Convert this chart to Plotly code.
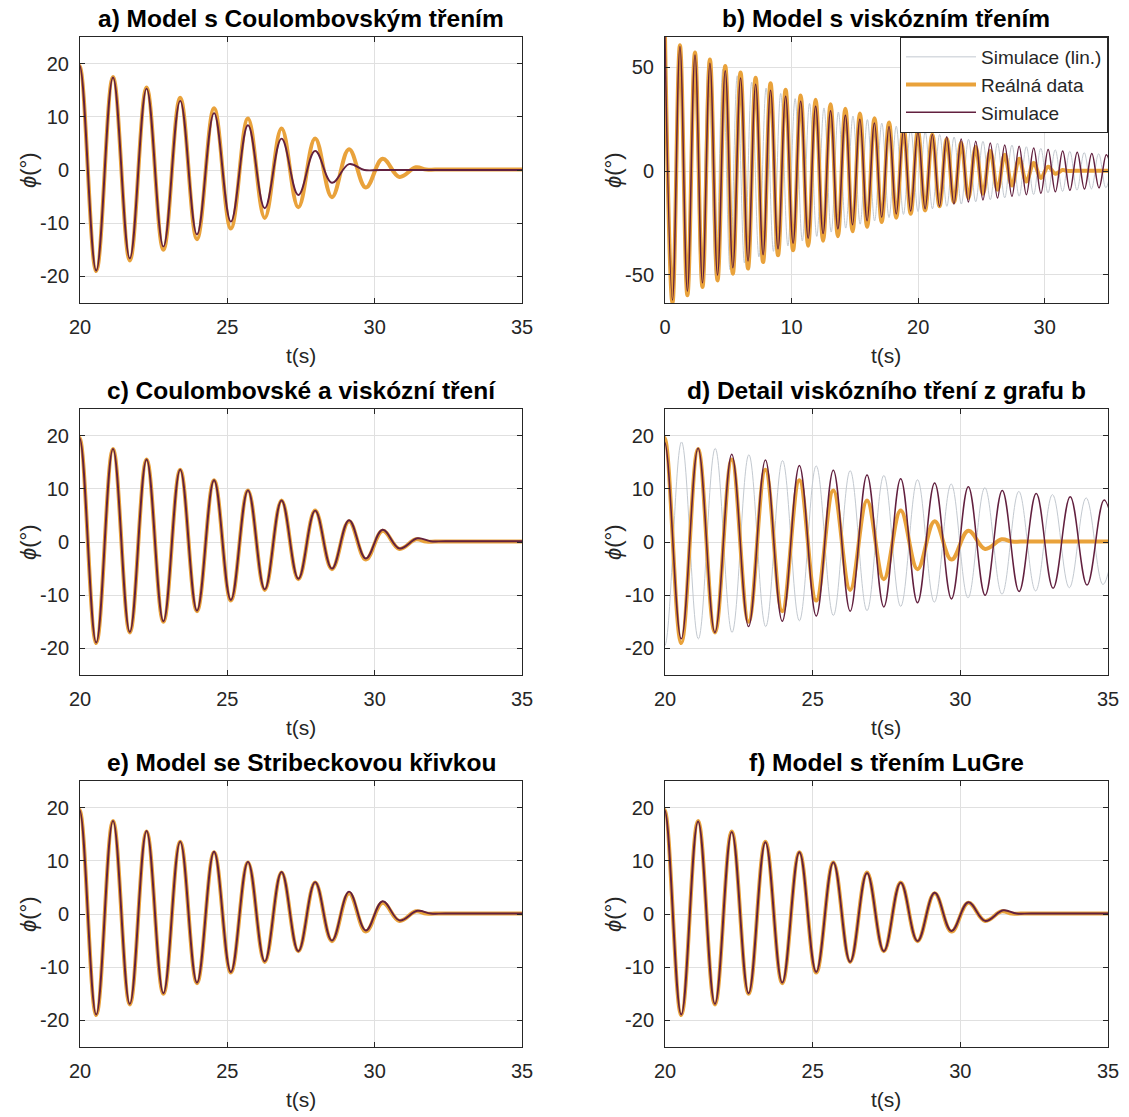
import plotly.graph_objects as go

# ---------------- data (extrema) ----------------
# Real measured data (Reálná data): alternating peaks/troughs, then rest at ~0
t_real = [0.00, 0.59, 1.18, 1.77, 2.37, 2.96, 3.55, 4.15, 4.76, 5.36, 5.97, 6.56,
          7.16, 7.75, 8.34, 8.93, 9.53, 10.12, 10.72, 11.31, 11.90, 12.49, 13.08,
          13.66, 14.25, 14.82, 15.40, 15.97, 16.55, 17.12, 17.70, 18.27, 18.85,
          19.41, 19.98, 20.55, 21.12, 21.69, 22.26, 22.83, 23.40, 23.97, 24.55,
          25.12, 25.70, 26.27, 26.84, 27.41, 27.98, 28.55, 29.13, 29.70, 30.27,
          30.84, 31.40, 31.75, 32.30, 35.00]
phi_real = [64.6, -63.6, 60.6, -59.9, 57.1, -55.9, 53.8, -52.7, 50.6, -49.5, 47.5,
            -47.0, 45.0, -43.9, 42.3, -40.6, 39.2, -38.2, 36.4, -36.0, 34.3, -33.6,
            32.2, -31.4, 30.0, -29.0, 27.7, -26.9, 25.5, -24.6, 23.4, -22.5, 21.2,
            -20.6, 19.6, -19.0, 17.5, -17.0, 15.5, -15.0, 13.6, -13.0, 11.6, -11.0,
            9.7, -9.0, 7.8, -7.0, 5.9, -5.1, 3.9, -3.3, 2.1, -1.3, 0.5, 0.1, 0.1, 0.1]

# Viscous-friction simulation (Simulace), panels b and d
t_visc = [0.00, 0.59, 1.18, 1.77, 2.37, 2.96, 3.55, 4.15, 4.76, 5.36, 5.97, 6.56,
          7.16, 7.75, 8.34, 8.93, 9.53, 10.12, 10.72, 11.31, 11.90, 12.49, 13.08,
          13.66, 14.25, 14.82, 15.40, 15.97, 16.55, 17.12, 17.70, 18.27, 18.85,
          19.41, 19.98, 20.55, 21.12, 21.69, 22.26, 22.83, 23.40, 23.97, 24.55,
          25.12, 25.70, 26.27, 26.84, 27.41, 27.98, 28.55, 29.13, 29.70, 30.27,
          30.84, 31.42, 31.99, 32.57, 33.14, 33.72, 34.29, 34.87, 35.44]
phi_visc = [64.6, -62.2, 60.0, -57.9, 55.9, -53.9, 52.0, -50.1, 48.3, -46.6, 44.9,
            -43.3, 41.8, -40.3, 38.9, -37.5, 36.1, -34.8, 33.6, -32.4, 31.2, -30.1,
            29.0, -27.9, 26.9, -25.9, 24.9, -24.0, 23.1, -22.3, 21.5, -20.7, 20.0,
            -19.3, 18.8, -18.2, 17.6, -17.0, 16.5, -15.9, 15.4, -14.9, 14.4, -13.9,
            13.5, -13.0, 12.6, -12.2, 11.9, -11.4, 11.1, -10.7, 10.4, -10.0, 9.7,
            -9.3, 9.1, -8.7, 8.5, -8.1, 7.9, -7.5]

# Linearised simulation (Simulace (lin.)), panels b and d
t_lin = [0.00, 0.57, 1.14, 1.71, 2.28, 2.86, 3.43, 4.00, 4.57, 5.14, 5.71, 6.28,
         6.85, 7.42, 7.99, 8.57, 9.14, 9.71, 10.28, 10.85, 11.42, 11.99, 12.56,
         13.13, 13.70, 14.28, 14.85, 15.42, 15.99, 16.56, 17.13, 17.70, 18.27,
         18.84, 19.41, 19.99, 20.56, 21.13, 21.70, 22.27, 22.84, 23.41, 23.98,
         24.55, 25.12, 25.70, 26.27, 26.84, 27.41, 27.98, 28.55, 29.12, 29.69,
         30.26, 30.83, 31.41, 31.98, 32.55, 33.12, 33.69, 34.26, 34.83, 35.40]
phi_lin = [64.6, -62.4, 60.3, -58.3, 56.3, -54.4, 52.6, -50.8, 49.1, -47.5, 45.9,
           -44.3, 42.8, -41.4, 40.0, -38.7, 37.4, -36.1, 34.9, -33.7, 32.6, -31.5,
           30.4, -29.4, 28.4, -27.5, 26.5, -25.6, 24.8, -24.0, 23.1, -22.4, 21.6,
           -20.9, 20.2, -19.5, 18.8, -18.2, 17.6, -17.0, 16.4, -15.9, 15.3, -14.8,
           14.3, -13.8, 13.4, -12.9, 12.5, -12.1, 11.7, -11.3, 10.9, -10.5, 10.2,
           -9.8, 9.5, -9.2, 8.9, -8.6, 8.3, -8.0, 7.8]

# Coulomb-friction simulation, panel a
t_coul = [17.70, 18.27, 18.85, 19.41, 19.98, 20.55, 21.12, 21.69, 22.26, 22.83,
          23.40, 23.97, 24.55, 25.12, 25.70, 26.27, 26.84, 27.41, 27.98, 28.55,
          29.13, 29.65, 30.20, 35.00]
phi_coul = [24.2, -23.3, 22.0, -21.1, 19.7, -18.9, 17.4, -16.6, 15.3, -14.4, 13.0,
            -12.1, 10.7, -9.7, 8.4, -7.2, 5.9, -4.7, 3.6, -2.4, 1.1, 0.0, 0.0, 0.0]

# Simulations for panels c, e, f (nearly coincide with the real data)
t_sim = [17.70, 18.27, 18.85, 19.41, 19.98, 20.55, 21.12, 21.69, 22.26, 22.83,
         23.40, 23.97, 24.55, 25.12, 25.70, 26.27, 26.84, 27.41, 27.98, 28.55,
         29.13, 29.70, 30.27, 30.84, 31.45, 31.90, 32.40, 35.00]
phi_sim_c = [23.4, -22.5, 21.2, -20.6, 19.6, -18.9, 17.5, -16.9, 15.5, -14.9, 13.6,
             -12.9, 11.6, -10.9, 9.7, -8.9, 7.8, -6.9, 5.9, -5.0, 4.1, -3.1, 2.3,
             -1.2, 0.7, 0.15, 0.15, 0.15]
phi_sim_e = [23.4, -22.6, 21.2, -20.6, 19.6, -18.9, 17.5, -16.9, 15.6, -14.9, 13.6,
             -12.9, 11.7, -10.9, 9.8, -8.9, 7.9, -7.0, 6.0, -5.0, 4.2, -3.1, 2.4,
             -1.2, 0.6, 0.1, 0.1, 0.1]
phi_sim_f = [23.4, -22.5, 21.2, -20.6, 19.6, -18.9, 17.4, -16.9, 15.4, -14.9, 13.5,
             -12.9, 11.6, -10.9, 9.7, -9.0, 7.7, -7.0, 5.9, -5.1, 4.0, -3.2, 2.2,
             -1.3, 0.7, 0.1, 0.1, 0.1]

for a, b in [(t_real, phi_real), (t_visc, phi_visc), (t_lin, phi_lin),
             (t_coul, phi_coul), (t_sim, phi_sim_c), (t_sim, phi_sim_e), (t_sim, phi_sim_f)]:
    assert len(a) == len(b)

titles = ["a) Model s Coulombovským třením", "b) Model s viskózním třením",
          "c) Coulombovské a viskózní tření", "d) Detail viskózního tření z grafu b",
          "e) Model se Stribeckovou křivkou", "f) Model s třením LuGre"]
legend_names = ["Simulace (lin.)", "Reálná data", "Simulace"]

x_ticks_detail = [20, 25, 30, 35]
x_ticks_full = [0, 10, 20, 30]
y_ticks_detail = [-20, -10, 0, 10, 20]
y_ticktext_detail = ["-20", "-10", "0", "10", "20"]
y_ticks_full = [-50, 0, 50]
y_ticktext_full = ["-50", "0", "50"]
x_range_detail = [20, 35]
x_range_full = [0, 35]
y_range_detail = [-25, 25]
y_range_full = [-63.6, 64.6]

# ---------------- styling ----------------
W, H = 1129, 1117
FONT = "Liberation Sans, Arial, Helvetica, sans-serif"
TXT = "#262626"
GRID = "#E0E0E0"
C_REAL = "#E9A23B"
C_SIM = "#62203F"
C_LIN = "#C3C9D0"

cols_px = [(80, 522), (665, 1108)]
rows_px = [(37, 303), (409, 675), (781, 1047)]


def xdom(c):
    return [cols_px[c][0] / W, cols_px[c][1] / W]


def ydom(r):
    return [1 - rows_px[r][1] / H, 1 - rows_px[r][0] / H]


fig = go.Figure()


def line(x, y, ax, color, width, name=None, show=False):
    fig.add_trace(go.Scatter(
        x=x, y=y, mode="lines", name=name, showlegend=show,
        line=dict(color=color, width=width, shape="spline", smoothing=1.1, simplify=False),
        xaxis="x" + ("" if ax == 1 else str(ax)), yaxis="y" + ("" if ax == 1 else str(ax)),
        hoverinfo="skip"))


W_REAL, W_SIM, W_LIN = 4.0, 1.9, 1.0
# panel a (1)
line(t_real, phi_real, 1, C_REAL, W_REAL)
line(t_coul, phi_coul, 1, C_SIM, W_SIM)
# panel b (2)
line(t_lin, phi_lin, 2, C_LIN, W_LIN, legend_names[0], True)
line(t_real, phi_real, 2, C_REAL, W_REAL, legend_names[1], True)
line(t_visc, phi_visc, 2, C_SIM, W_SIM - 0.4, legend_names[2], True)
# panel c (3)
line(t_real, phi_real, 3, C_REAL, W_REAL)
line(t_sim, phi_sim_c, 3, C_SIM, W_SIM)
# panel d (4)
line(t_lin, phi_lin, 4, C_LIN, W_LIN)
line(t_real, phi_real, 4, C_REAL, W_REAL)
line(t_visc, phi_visc, 4, C_SIM, W_SIM - 0.4)
# panel e (5)
line(t_real, phi_real, 5, C_REAL, W_REAL)
line(t_sim, phi_sim_e, 5, C_SIM, W_SIM)
# panel f (6)
line(t_real, phi_real, 6, C_REAL, W_REAL)
line(t_sim, phi_sim_f, 6, C_SIM, W_SIM)

layout = dict(
    width=W, height=H, margin=dict(l=0, r=0, t=0, b=0, pad=0, autoexpand=False),
    paper_bgcolor="white", plot_bgcolor="white",
    font=dict(family=FONT, color=TXT, size=20),
    legend=dict(x=cols_px[1][1] / W, xanchor="right", y=1 - rows_px[0][0] / H, yanchor="top",
                bgcolor="white", bordercolor=TXT, borderwidth=1,
                font=dict(size=19, color=TXT, family=FONT), itemwidth=70,
                tracegroupgap=0),
    annotations=[],
)

for i in range(6):
    r, c = divmod(i, 2)
    k = "" if i == 0 else str(i + 1)
    full = (i == 1)
    layout["xaxis" + k] = dict(
        domain=xdom(c), anchor="y" + k, automargin=False,
        range=x_range_full if full else x_range_detail,
        tickvals=x_ticks_full if full else x_ticks_detail,
        showgrid=True, gridcolor=GRID, gridwidth=1, zeroline=False,
        showline=True, linecolor=TXT, linewidth=1, mirror="ticks",
        ticks="inside", ticklen=5, tickcolor=TXT, tickwidth=1,
        tickfont=dict(size=20, color=TXT, family=FONT), ticklabelstandoff=6)
    layout["yaxis" + k] = dict(
        domain=ydom(r), anchor="x" + k, automargin=False,
        range=y_range_full if full else y_range_detail,
        tickvals=y_ticks_full if full else y_ticks_detail,
        ticktext=y_ticktext_full if full else y_ticktext_detail,
        showgrid=True, gridcolor=GRID, gridwidth=1, zeroline=False,
        showline=True, linecolor=TXT, linewidth=1, mirror="ticks",
        ticks="inside", ticklen=5, tickcolor=TXT, tickwidth=1,
        tickfont=dict(size=20, color=TXT, family=FONT), ticklabelstandoff=6)
    xd, yd = xdom(c), ydom(r)
    xc = (xd[0] + xd[1]) / 2
    layout["annotations"].append(dict(
        text="<b>" + titles[i] + "</b>", x=xc, y=yd[1], xref="paper", yref="paper",
        xanchor="center", yanchor="bottom", yshift=3, showarrow=False,
        font=dict(size=24.5, color="#000000", family=FONT)))
    layout["annotations"].append(dict(
        text="t(s)", x=xc, y=yd[0], xref="paper", yref="paper",
        xanchor="center", yanchor="middle", yshift=-52, showarrow=False,
        font=dict(size=21, color=TXT, family=FONT)))
    layout["annotations"].append(dict(
        text="<i>ϕ</i>(°)", x=(cols_px[c][0] - 52) / W, y=(yd[0] + yd[1]) / 2,
        xref="paper", yref="paper", xanchor="center", yanchor="middle",
        textangle=-90, showarrow=False,
        font=dict(size=22, color=TXT, family=FONT)))

fig.update_layout(**layout)
fig.write_html("out.html", config={"displayModeBar": False},
               post_script="document.body.style.margin='0';document.body.style.overflow='hidden';")
